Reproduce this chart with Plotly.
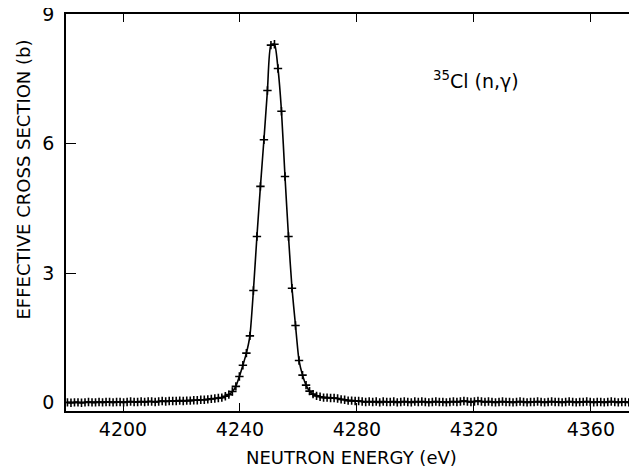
import plotly.graph_objects as go

# Neutron energy (eV) of each measured channel
energy_ev = [
    4181.0, 4182.2, 4183.4, 4184.6, 4185.8, 4187.0, 4188.2, 4189.4, 4190.6, 4191.8,
    4193.0, 4194.2, 4195.4, 4196.6, 4197.8, 4199.0, 4200.2, 4201.4, 4202.6, 4203.8,
    4205.0, 4206.2, 4207.4, 4208.6, 4209.8, 4211.0, 4212.2, 4213.4, 4214.6, 4215.8,
    4217.0, 4218.2, 4219.4, 4220.6, 4221.8, 4223.0, 4224.2, 4225.4, 4226.6, 4227.8,
    4229.0, 4230.2, 4231.4, 4232.6, 4233.8, 4235.0, 4236.2, 4237.4, 4238.6, 4239.8,
    4241.0, 4242.2, 4243.4, 4244.6, 4245.8, 4247.0, 4248.2, 4249.4, 4250.6, 4251.8,
    4253.0, 4254.2, 4255.4, 4256.6, 4257.8, 4259.0, 4260.2, 4261.4, 4262.6, 4263.8,
    4265.0, 4266.2, 4267.4, 4268.6, 4269.8, 4271.0, 4272.2, 4273.4, 4274.6, 4275.8,
    4277.0, 4278.2, 4279.4, 4280.6, 4281.8, 4283.0, 4284.2, 4285.4, 4286.6, 4287.8,
    4289.0, 4290.2, 4291.4, 4292.6, 4293.8, 4295.0, 4296.2, 4297.4, 4298.6, 4299.8,
    4301.0, 4302.2, 4303.4, 4304.6, 4305.8, 4307.0, 4308.2, 4309.4, 4310.6, 4311.8,
    4313.0, 4314.2, 4315.4, 4316.6, 4317.8, 4319.0, 4320.2, 4321.4, 4322.6, 4323.8,
    4325.0, 4326.2, 4327.4, 4328.6, 4329.8, 4331.0, 4332.2, 4333.4, 4334.6, 4335.8,
    4337.0, 4338.2, 4339.4, 4340.6, 4341.8, 4343.0, 4344.2, 4345.4, 4346.6, 4347.8,
    4349.0, 4350.2, 4351.4, 4352.6, 4353.8, 4355.0, 4356.2, 4357.4, 4358.6, 4359.8,
    4361.0, 4362.2, 4363.4, 4364.6, 4365.8, 4367.0, 4368.2, 4369.4, 4370.6, 4371.8,
    4373.0, 4374.2, 4375.4,
]

# Effective cross section (b)
cross_section_b = [
    0.01, 0.00, 0.01, 0.01, 0.00, 0.01, 0.02, 0.01, 0.01, 0.02,
    0.01, 0.02, 0.02, 0.01, 0.02, 0.02, 0.01, 0.02, 0.03, 0.02,
    0.02, 0.03, 0.02, 0.03, 0.03, 0.02, 0.03, 0.04, 0.03, 0.04,
    0.04, 0.04, 0.05, 0.04, 0.05, 0.05, 0.06, 0.06, 0.07, 0.07,
    0.08, 0.09, 0.10, 0.11, 0.12, 0.15, 0.19, 0.26,
    0.38, 0.61, 0.87, 1.15, 1.55, 2.60, 3.85, 5.01, 6.09, 7.23, 8.28, 8.30,
    7.74, 6.75, 5.24, 3.85, 2.65, 1.79, 0.98, 0.64, 0.41, 0.27,
    0.20, 0.16, 0.14, 0.12, 0.12, 0.11, 0.11, 0.10, 0.08, 0.07, 0.05, 0.05, 0.04, 0.04,
    0.03, 0.02, 0.03, 0.02, 0.03, 0.01, 0.03, 0.02, 0.02, 0.03,
    0.01, 0.02, 0.03, 0.02, 0.01, 0.03, 0.02, 0.03, 0.02, 0.01,
    0.02, 0.03, 0.02, 0.02, 0.01, 0.02, 0.03, 0.02, 0.03, 0.04,
    0.03, 0.02, 0.03, 0.04, 0.03, 0.02, 0.03, 0.02, 0.01, 0.02,
    0.03, 0.02, 0.02, 0.01, 0.02, 0.03, 0.02, 0.01, 0.02, 0.02,
    0.03, 0.02, 0.01, 0.02, 0.03, 0.02, 0.02, 0.01, 0.02, 0.03,
    0.02, 0.01, 0.02, 0.02, 0.03, 0.02, 0.01, 0.02, 0.02, 0.01,
    0.02, 0.03, 0.02, 0.01, 0.02, 0.02, 0.01, 0.02, 0.01,
]

x_tick_values = [4200, 4240, 4280, 4320, 4360]
y_tick_values = [0, 3, 6, 9]

FONT = "DejaVu Sans"

fig = go.Figure()
fig.add_trace(go.Scatter(
    x=energy_ev,
    y=cross_section_b,
    mode="lines+markers",
    line=dict(color="black", width=1.6, shape="spline", smoothing=0.6),
    marker=dict(symbol="cross-thin", size=6, color="black",
                line=dict(color="black", width=1.6)),
    showlegend=False,
    hoverinfo="skip",
))
# empty trace so the right-hand tick axis is drawn
fig.add_trace(go.Scatter(x=[4300], y=[None], yaxis="y2", mode="lines",
                         showlegend=False, hoverinfo="skip"))

# the page body has an 8px default margin, so the figure is sized/offset for it
fig.update_layout(
    width=629, height=460,
    margin=dict(l=58, r=0, t=6, b=57, autoexpand=False),
    paper_bgcolor="white", plot_bgcolor="white",
    font=dict(family=FONT, color="black", size=19),
    xaxis=dict(
        range=[4180.5, 4375.8],
        tickvals=x_tick_values,
        ticktext=[str(v) for v in x_tick_values],
        ticks="inside", ticklen=8, tickwidth=1.3, tickcolor="black",
        showline=True, linecolor="black", linewidth=1.5, mirror="ticks",
        showgrid=False, zeroline=False, automargin=False,
        ticklabelstandoff=0, ticklabeloverflow="allow",
        tickfont=dict(family=FONT, size=19, color="black"),
    ),
    yaxis=dict(
        range=[-0.19, 9.0],
        tickvals=y_tick_values,
        ticktext=[str(v) for v in y_tick_values],
        ticks="inside", ticklen=10, tickwidth=1.3, tickcolor="black",
        showline=True, linecolor="black", linewidth=1.5, mirror=False,
        showgrid=False, zeroline=False, automargin=False,
        ticklabelstandoff=6, ticklabeloverflow="allow",
        tickfont=dict(family=FONT, size=19, color="black"),
    ),
    yaxis2=dict(
        overlaying="y", side="right", anchor="x",
        range=[-0.19, 9.0],
        tickvals=y_tick_values,
        ticks="inside", ticklen=4, tickwidth=1.3, tickcolor="black",
        showticklabels=False, showline=False, showgrid=False, zeroline=False,
        automargin=False,
    ),
    annotations=[
        dict(text="EFFECTIVE CROSS SECTION (b)", textangle=-90,
             xref="paper", yref="paper", x=-0.0736, y=0.583,
             xanchor="center", yanchor="middle", showarrow=False,
             font=dict(family=FONT, size=18, color="black")),
        dict(text="NEUTRON ENERGY (eV)",
             xref="paper", yref="paper", x=0.5, y=-0.118,
             xanchor="center", yanchor="middle", showarrow=False,
             font=dict(family=FONT, size=18, color="black")),
        dict(text="<sup>35</sup>Cl (n,γ)",
             xref="paper", yref="paper", x=0.718, y=0.835,
             xanchor="center", yanchor="middle", showarrow=False,
             font=dict(family=FONT, size=19, color="black")),
    ],
)

fig.write_html("out.html")
